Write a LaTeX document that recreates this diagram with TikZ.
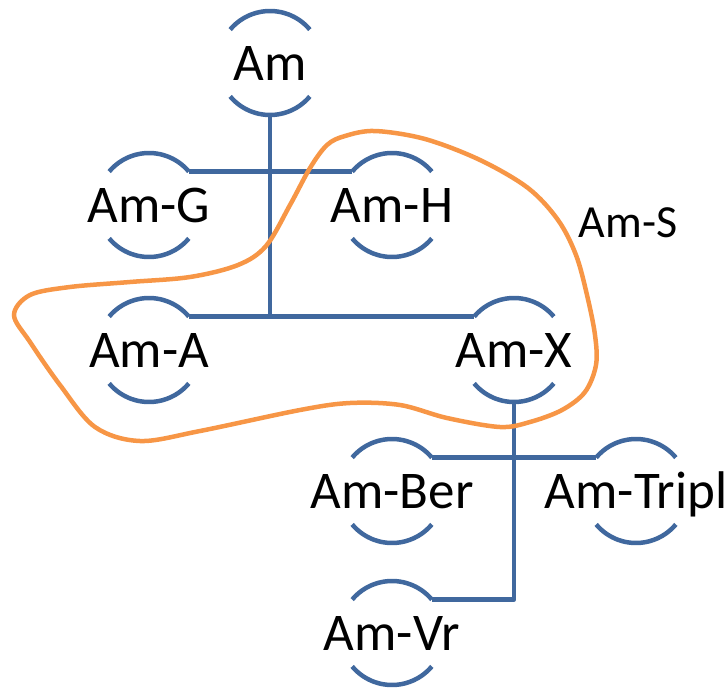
\documentclass[tikz,border=0pt]{standalone}
\usepackage{fontspec}
\setmainfont{Carlito}
\definecolor{amblue}{RGB}{64,104,158}
\definecolor{amorange}{RGB}{247,150,70}
\begin{document}
\begin{tikzpicture}[x=1pt,y=-1pt,
  amtext/.style={font=\fontsize{53}{63}\selectfont, text height=34pt, text depth=0pt, inner sep=0pt},
  amnode/.style={circle, minimum size=104pt, inner sep=0pt, outer sep=0pt, label={[amtext]center:#1}},
  link/.style={draw=amblue, line width=4.5pt},
  hull/.style={draw=amorange, line width=4.5pt}
]
\useasboundingbox (0,0) rectangle (728,688);
\node[amnode=Am] (am) at (270,63) {};
\node[amnode=Am-G] (g) at (149,205) {};
\node[amnode=Am-H] (h) at (392,205) {};
\node[amnode=Am-A] (a) at (149,350) {};
\node[amnode=Am-X] (x) at (514,350) {};
\node[amnode=Am-Ber] (ber) at (392,491) {};
\node[amnode=Am-Tripl] (tripl) at (636,491) {};
\node[amnode=Am-Vr] (vr) at (392,633) {};
\foreach \n in {am,g,h,a,x,ber,tripl,vr}
  \draw[link] (\n.40) arc[start angle=40,end angle=140,radius=52pt]
              (\n.220) arc[start angle=220,end angle=320,radius=52pt];
\coordinate (amax) at (am.south |- a.40);
\coordinate (xvr) at (x.south |- vr.40);
\draw[link] (g.40) -- (h.140);
\draw[link] (am.south) -- (amax);
\draw[link] (a.40) -- (x.140);
\draw[link] (ber.40) -- (tripl.140);
\draw[link, line join=round] (x.south) -- (xvr) -- (vr.40);
\draw[hull] plot[smooth cycle, tension=0.55] coordinates {
 (345,136) (375,131) (425,139) (480,160) (528,188) (558,220) (576,255)
 (587,295) (595,335) (596,365) (585,392) (562,410) (530,422) (500,427)
 (447,418) (400,405) (350,403) (300,410) (200,431) (140,441)
 (95,427) (60,385) (30,342) (14,315) (30,295) (70,287) (130,282)
 (190,277) (238,265) (266,246) (290,205) (310,168) (327,145)};
\node[font=\fontsize{46}{55}\selectfont, anchor=base, inner sep=0pt] (ams) at (628,237) {Am-S};
\end{tikzpicture}
\end{document}
